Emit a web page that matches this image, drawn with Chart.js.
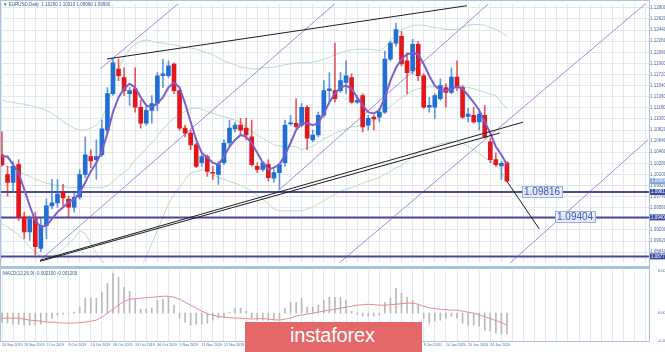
<!DOCTYPE html>
<html>
<head>
<meta charset="utf-8">
<script src="https://cdn.jsdelivr.net/npm/chart.js@4.4.1/dist/chart.umd.min.js"></script>
<style>
  html, body { margin: 0; padding: 0; background: #fff; }
  #wrap { position: relative; width: 665px; height: 352px; overflow: hidden; font-family: 'Liberation Sans Narrow', 'Liberation Sans', sans-serif; }
  canvas { position: absolute; left: 0; }
  #main { top: 0; }
  #sub { top: 267px; }
  .frame { position: absolute; background: #a9c2e1; }
  .cap { position: absolute; font-size: 4.5px; line-height: 5px; color: #3d5a8a; white-space: nowrap; }
  #logo { position: absolute; left: 245px; top: 322px; width: 177px; height: 32px; background: #e46868; }
  #logo span { position: absolute; left: 45px; top: 0px; font: 20px/26px 'Liberation Sans Narrow', 'Liberation Sans', sans-serif; color: #fff; letter-spacing: -0.2px; }
</style>
</head>
<body>
<div id="wrap">
  <canvas id="main" width="665" height="267"></canvas>
  <canvas id="sub" width="665" height="85"></canvas>
  <div class="frame" style="left:0;top:0;width:1px;height:342px"></div>
  <div class="frame" style="left:0;top:0;width:650px;height:1px"></div>
  <div class="frame" style="left:649px;top:0;width:1px;height:342px"></div>
  <div class="frame" style="left:0;top:266px;width:650px;height:3px"></div>
  <div class="frame" style="left:0;top:341px;width:650px;height:1px"></div>
  <div class="cap" style="left:3px;top:2px">&#9660; EURUSD,Daily&nbsp; 1.10290 1.10310 1.09990 1.09990</div>
  <div class="cap" style="left:3px;top:271px">MACD(12,26,9) -0.002100 -0.001200</div>
  <div id="logo"><span>instaforex</span></div>
</div>
<script>
// daily candles, index 0 = 20 Sep 2019
const opens = [1.1042,1.1010,1.0997,1.1026,1.0941,1.0917,1.0938,1.0890,1.0927,1.0959,
  1.0964,1.0981,1.0970,1.0957,1.0973,1.1010,1.1039,1.1034,1.1042,1.1082,
  1.1141,1.1181,1.1167,1.1141,1.1149,1.1119,1.1093,1.1114,1.1125,1.1170,
  1.1170,1.1189,1.1146,1.1085,1.1077,1.1058,1.1029,1.1039,1.1013,1.1010,
  1.1029,1.1061,1.1084,1.1090,1.1085,1.1071,1.1023,1.1018,1.1026,1.1004,
  1.1013,1.1029,1.1092,1.1093,1.1090,1.1119,1.1066,1.1074,1.1106,1.1146,
  1.1146,1.1146,1.1159,1.1167,1.1127,1.1138,1.1090,1.1103,1.1103,1.1111,
  1.1197,1.1223,1.1234,1.1194,1.1178,1.1221,1.1170,1.1119,1.1119,1.1133,
  1.1151,1.1143,1.1168,1.1151,1.1104,1.1106,1.1095,1.1106,1.1063,1.1034,
  1.1024,1.1029];
const highs = [1.1079,1.1023,1.1031,1.1034,1.0949,1.0943,1.0949,1.0938,1.0970,1.1002,
  1.1002,1.0994,1.0975,1.0981,1.1018,1.1071,1.1050,1.1066,1.1098,1.1151,
  1.1197,1.1197,1.1183,1.1151,1.1183,1.1130,1.1122,1.1138,1.1175,1.1197,
  1.1194,1.1191,1.1151,1.1090,1.1082,1.1061,1.1042,1.1042,1.1023,1.1031,
  1.1066,1.1098,1.1095,1.1101,1.1101,1.1098,1.1029,1.1031,1.1034,1.1018,
  1.1029,1.1098,1.1106,1.1133,1.1125,1.1122,1.1082,1.1111,1.1162,1.1175,
  1.1223,1.1175,1.1194,1.1173,1.1138,1.1141,1.1106,1.1106,1.1117,1.1210,
  1.1226,1.1255,1.1242,1.1207,1.1229,1.1226,1.1173,1.1135,1.1141,1.1165,
  1.1157,1.1183,1.1194,1.1154,1.1117,1.1119,1.1114,1.1122,1.1069,1.1045,
  1.1031,1.1031];
const lows = [1.1023,1.0975,1.0981,1.0935,1.0906,1.0903,1.0879,1.0885,1.0906,1.0954,
  1.0957,1.0959,1.0941,1.0949,1.0970,1.1005,1.1021,1.1002,1.1039,1.1077,
  1.1138,1.1162,1.1138,1.1122,1.1111,1.1085,1.1090,1.1093,1.1114,1.1151,
  1.1167,1.1141,1.1082,1.1071,1.1050,1.1021,1.1023,1.1007,1.1002,1.0994,
  1.1026,1.1055,1.1079,1.1074,1.1066,1.1023,1.1013,1.1015,1.0999,1.0997,
  1.0986,1.1023,1.1090,1.1085,1.1087,1.1050,1.1063,1.1071,1.1103,1.1127,
  1.1127,1.1143,1.1141,1.1125,1.1125,1.1079,1.1082,1.1082,1.1095,1.1109,
  1.1194,1.1218,1.1186,1.1141,1.1173,1.1162,1.1117,1.1111,1.1101,1.1130,
  1.1119,1.1141,1.1146,1.1101,1.1095,1.1093,1.1082,1.1069,1.1029,1.1023,
  1.1002,1.0999];
const closes = [1.1026,1.0997,1.1023,1.0941,1.0917,1.0938,1.0893,1.0927,1.0959,1.0964,
  1.0978,1.0972,1.0957,1.0973,1.1010,1.1042,1.1032,1.1039,1.1084,1.1141,
  1.1191,1.1170,1.1146,1.1146,1.1119,1.1093,1.1114,1.1125,1.1170,1.1173,
  1.1186,1.1146,1.1085,1.1077,1.1058,1.1023,1.1039,1.1015,1.1012,1.1026,
  1.1061,1.1085,1.1090,1.1082,1.1074,1.1026,1.1018,1.1029,1.1005,1.1013,
  1.1026,1.1090,1.1093,1.1088,1.1119,1.1069,1.1074,1.1106,1.1146,1.1149,
  1.1133,1.1162,1.1170,1.1127,1.1130,1.1087,1.1101,1.1100,1.1111,1.1197,
  1.1223,1.1245,1.1189,1.1175,1.1221,1.1170,1.1119,1.1122,1.1138,1.1154,
  1.1143,1.1168,1.1151,1.1103,1.1108,1.1095,1.1108,1.1071,1.1034,1.1026,
  1.1028,1.0999];

// moving average (purple)
const maLine = [1.1039,1.1039,1.1026,1.1013,1.0986,1.0959,1.0935,1.0925,1.0927,1.0938,
  1.0949,1.0957,1.0965,1.0970,1.0981,1.0997,1.1015,1.1029,1.1047,1.1077,
  1.1111,1.1135,1.1149,1.1157,1.1151,1.1135,1.1122,1.1119,1.1125,1.1135,
  1.1151,1.1159,1.1151,1.1125,1.1095,1.1066,1.1045,1.1037,1.1029,1.1026,
  1.1039,1.1055,1.1066,1.1074,1.1071,1.1061,1.1045,1.1029,1.1018,1.1021,
  1.1026,1.1042,1.1061,1.1082,1.1093,1.1093,1.1090,1.1093,1.1109,1.1127,
  1.1141,1.1151,1.1154,1.1149,1.1135,1.1122,1.1111,1.1109,1.1114,1.1135,
  1.1162,1.1183,1.1197,1.1205,1.1207,1.1205,1.1189,1.1170,1.1154,1.1146,
  1.1146,1.1149,1.1152,1.1149,1.1138,1.1127,1.1114,1.1095,1.1077,1.1055,
  1.1042,1.1026];

// bollinger bands (light green)
const bbUpper = [1.1130,1.1128,1.1127,1.1125,1.1124,1.1122,1.1120,1.1117,1.1114,1.1109,
  1.1103,1.1096,1.1090,1.1085,1.1082,1.1082,1.1085,1.1090,1.1101,1.1122,
  1.1154,1.1181,1.1200,1.1213,1.1221,1.1226,1.1228,1.1226,1.1224,1.1223,
  1.1221,1.1220,1.1218,1.1216,1.1215,1.1213,1.1210,1.1207,1.1204,1.1199,
  1.1194,1.1191,1.1188,1.1184,1.1183,1.1181,1.1181,1.1183,1.1183,1.1184,
  1.1186,1.1188,1.1189,1.1191,1.1191,1.1191,1.1192,1.1194,1.1197,1.1200,
  1.1204,1.1207,1.1210,1.1212,1.1213,1.1213,1.1213,1.1212,1.1210,1.1216,
  1.1226,1.1237,1.1245,1.1248,1.1252,1.1252,1.1252,1.1250,1.1248,1.1247,
  1.1245,1.1245,1.1245,1.1248,1.1252,1.1253,1.1253,1.1252,1.1248,1.1245,
  1.1240,1.1234];
const bbMid = [1.1026,1.1023,1.1020,1.1015,1.1010,1.1007,1.1002,1.0999,1.0996,1.0994,
  1.0992,1.0991,1.0989,1.0989,1.0989,1.0989,1.0989,1.0989,1.0989,1.0991,
  1.0999,1.1007,1.1013,1.1021,1.1034,1.1042,1.1052,1.1061,1.1072,1.1084,
  1.1093,1.1101,1.1108,1.1112,1.1117,1.1117,1.1116,1.1112,1.1109,1.1106,
  1.1104,1.1101,1.1098,1.1095,1.1087,1.1080,1.1074,1.1069,1.1063,1.1058,
  1.1056,1.1056,1.1056,1.1055,1.1050,1.1053,1.1056,1.1061,1.1068,1.1072,
  1.1077,1.1080,1.1084,1.1087,1.1088,1.1092,1.1095,1.1098,1.1101,1.1114,
  1.1120,1.1128,1.1135,1.1140,1.1146,1.1149,1.1151,1.1152,1.1152,1.1154,
  1.1154,1.1154,1.1154,1.1152,1.1151,1.1149,1.1146,1.1143,1.1140,1.1138,
  1.1127,1.1116];
const bbLower = [1.0930,1.0925,1.0919,1.0912,1.0903,1.0893,1.0884,1.0877,1.0876,1.0877,
  1.0882,1.0890,1.0898,1.0906,1.0919,1.0914,1.0898,1.0882,1.0871,1.0858,
  1.0845,1.0836,1.0831,1.0831,1.0842,1.0858,1.0877,1.0898,1.0919,1.0941,
  1.0962,1.0978,1.0989,1.1002,1.1012,1.1015,1.1018,1.1015,1.1010,1.1005,
  1.1002,1.0999,1.0996,1.0992,1.0989,1.0983,1.0976,1.0970,1.0962,1.0954,
  1.0951,1.0951,1.0951,1.0951,1.0951,1.0954,1.0957,1.0962,1.0967,1.0973,
  1.0978,1.0983,1.0986,1.0989,1.0992,1.0996,1.0999,1.1002,1.1005,1.1010,
  1.1015,1.1021,1.1024,1.1031,1.1039,1.1047,1.1050,1.1053,1.1056,1.1060,
  1.1061,1.1063,1.1063,1.1060,1.1056,1.1050,1.1044,1.1037,1.1031,1.1026,
  1.1015,1.0997];

// oscillator window
const macdHist = [-0.0009,-0.0010,-0.0011,-0.0011,-0.0012,-0.0012,-0.0012,-0.0011,-0.0008,-0.0005,
  -0.0002,-0.0001,0.0000,0.0001,0.0006,0.0015,0.0015,0.0015,0.0021,0.0030,
  0.0040,0.0036,0.0026,0.0022,0.0015,0.0004,0.0004,0.0005,0.0013,0.0014,
  0.0016,0.0008,-0.0005,-0.0009,-0.0012,-0.0011,-0.0011,-0.0010,-0.0007,-0.0005,
  -0.0004,0.0001,0.0005,0.0005,0.0002,-0.0005,-0.0007,-0.0007,-0.0007,-0.0007,
  -0.0006,0.0005,0.0011,0.0011,0.0015,0.0006,0.0006,0.0008,0.0013,0.0016,
  0.0016,0.0016,0.0013,0.0002,-0.0001,-0.0003,-0.0003,-0.0003,-0.0002,0.0011,
  0.0015,0.0025,0.0020,0.0016,0.0013,0.0008,-0.0005,-0.0010,-0.0008,-0.0007,
  -0.0005,-0.0003,-0.0005,-0.0010,-0.0012,-0.0012,-0.0013,-0.0017,-0.0018,-0.0020,
  -0.0021,-0.0021];
const macdSignal = [-0.0005,-0.0005,-0.0005,-0.0005,-0.0006,-0.0007,-0.00075,-0.0008,-0.0009,-0.0009,
  -0.00095,-0.0010,-0.0010,-0.0010,-0.00095,-0.0009,-0.0008,-0.0007,-0.0004,0.0000,
  0.0004,0.0008,0.0012,0.0014,0.00145,0.0015,0.00155,0.0016,0.00165,0.0017,
  0.0017,0.0016,0.0014,0.0011,0.0008,0.0005,0.0002,-0.00005,-0.0002,-0.00035,
  -0.0004,-0.00045,-0.0005,-0.0005,-0.00055,-0.0006,-0.00055,-0.00055,-0.0006,-0.00065,
  -0.0007,-0.0006,-0.0005,-0.0003,-0.0002,-0.0001,0.0000,0.0001,0.0002,0.0003,
  0.0004,0.0005,0.0006,0.0007,0.0008,0.00085,0.0009,0.00085,0.0008,0.0008,
  0.00085,0.0009,0.00095,0.0010,0.0010,0.0009,0.0007,0.00055,0.00045,0.0004,
  0.00035,0.0003,0.0003,0.0002,0.0001,0.0000,-0.00015,-0.00035,-0.00055,-0.00075,
  -0.00095,-0.0012];

// date labels every 4 bars
const dateLabels = ['20 Sep 2019','26 Sep 2019','2 Oct 2019','8 Oct 2019','14 Oct 2019','18 Oct 2019',
  '24 Oct 2019','30 Oct 2019','5 Nov 2019','11 Nov 2019','15 Nov 2019','21 Nov 2019','27 Nov 2019',
  '3 Dec 2019','9 Dec 2019','13 Dec 2019','19 Dec 2019','26 Dec 2019','2 Jan 2020','8 Jan 2020',
  '14 Jan 2020','20 Jan 2020','24 Jan 2020'];
const priceTicks = [1.1280,1.1262,1.1244,1.1226,1.1208,1.1190,1.1172,1.1154,1.1136,1.1118,1.1100,
  1.1082,1.1064,1.1046,1.1028,1.1010,1.0992,1.0974,1.0956,1.0938,1.0920,1.0902,1.0884];
const macdTicks = [0.0043, 0, -0.0028];

// horizontal levels and drawn lines: [bar index, price, bar index, price]
const levels = [1.09816, 1.09404, 1.08772];
const levelTags = ['1.09816', '1.09404'];
const blackLines = [
  [18.9, 1.11972, 83.8, 1.12836],
  [6.85, 1.08708, 93.9, 1.10948],
  [6.85, 1.08692, 89.7, 1.10772],
  [91.0, 1.09988, 96.8, 1.09220]
];
const channelLines = [
  [17.7, 1.11812, 32.4, 1.12916],
  [6.85, 1.08708, 60.0, 1.12868],
  [49.7, 1.09828, 87.7, 1.12868],
  [60.7, 1.08660, 116.4, 1.12900],
  [91.5, 1.08660, 116.4, 1.10660]
];

const X_MIN = -0.18, X_MAX = 116.6;
const idx = opens.map((o, i) => i);
const up = opens.map((o, i) => closes[i] >= o);
const bodyColors = up.map(u => u ? '#1f6fd6' : '#e2161b');
const wickColors = up.map(u => u ? 'rgba(31,111,214,0.7)' : 'rgba(226,22,27,0.7)');
const seg = a => [{ x: a[0], y: a[1] }, { x: a[2], y: a[3] }];
const lineSet = (data, color, width, order) => ({
  type: 'line', data: data, borderColor: color, borderWidth: width,
  pointRadius: 0, fill: false, order: order
});
const smallFont = { size: 4.5, family: "'Liberation Sans Narrow', 'Liberation Sans', sans-serif" };
const gridColor = '#e3e7ee';

const tagPlugin = {
  id: 'tags',
  afterDraw(chart, args, opts) {
    const { ctx, chartArea, scales } = chart;
    const x = scales.x, y = scales.y;
    ctx.save();
    ctx.textBaseline = 'middle';
    ctx.font = "10px 'Liberation Sans', sans-serif";
    levelTags.forEach((t, k) => {
      const py = Math.round(y.getPixelForValue(levels[k]));
      const px = Math.round(x.getPixelForValue(opts.at[k]));
      const w = Math.ceil(ctx.measureText(t).width) + 4;
      ctx.fillStyle = 'rgba(230,235,252,0.95)';
      ctx.fillRect(px, py - 6, w, 12);
      ctx.strokeStyle = '#9eaee2';
      ctx.lineWidth = 1;
      ctx.strokeRect(px + 0.5, py - 5.5, w - 1, 11);
      ctx.fillStyle = '#4058b0';
      ctx.fillText(t, px + 2, py + 0.5);
    });
    ctx.font = "4.5px 'Liberation Sans Narrow', sans-serif";
    const tag = (v, bg) => {
      const py = y.getPixelForValue(v);
      ctx.fillStyle = bg;
      ctx.fillRect(chartArea.right + 1, py - 3, 15, 6);
      ctx.fillStyle = '#fff';
      ctx.fillText(v.toFixed(5), chartArea.right + 2, py);
    };
    tag(closes[closes.length - 1], '#7ea9de');
    levels.forEach(v => tag(v, '#3b4a9c'));
    ctx.restore();
  }
};

new Chart(document.getElementById('main'), {
  type: 'bar',
  data: {
    datasets: [
      lineSet(idx.map(i => ({ x: i, y: bbUpper[i] })), '#b9dcc4', 1, 20),
      lineSet(idx.map(i => ({ x: i, y: bbMid[i] })), '#b9dcc4', 1, 20),
      lineSet(idx.map(i => ({ x: i, y: bbLower[i] })), '#b9dcc4', 1, 20),
      ...channelLines.map(l => lineSet(seg(l), '#9a8ee0', 1, 15)),
      ...levels.map(v => lineSet([{ x: -1, y: v }, { x: 120, y: v }], '#4b4b9e', 2, 12)),
      {
        data: idx.map(i => ({ x: i, y: [lows[i], highs[i]] })),
        backgroundColor: wickColors, barThickness: 1, grouped: false, order: 6
      },
      {
        data: idx.map(i => ({ x: i, y: [opens[i], closes[i]] })),
        backgroundColor: bodyColors, barThickness: 4, minBarLength: 1, grouped: false, order: 5
      },
      lineSet(idx.map(i => ({ x: i, y: maLine[i] })), '#7c5fcc', 2, 3),
      ...blackLines.map(l => lineSet(seg(l), '#1e1e1e', 1, 2))
    ]
  },
  options: {
    responsive: false,
    animation: false,
    events: [],
    layout: { padding: { left: 1, top: 2, right: 0, bottom: 2 }, autoPadding: false },
    plugins: { legend: { display: false }, tooltip: { enabled: false }, tags: { at: [93.7, 99.6] } },
    scales: {
      x: {
        type: 'linear', min: X_MIN, max: X_MAX, offset: false,
        grid: { offset: false, color: gridColor, drawTicks: false },
        border: { display: false },
        ticks: { display: false },
        afterBuildTicks: s => { const t = []; for (let v = 0; v <= 116; v += 2) t.push({ value: v }); s.ticks = t; },
        afterFit: s => { s.height = 0; }
      },
      y: {
        position: 'right', min: 1.0866, max: 1.12868,
        grid: { color: gridColor, drawTicks: false },
        border: { display: false },
        ticks: { font: smallFont, color: '#4a6a9a', padding: 1, callback: v => v.toFixed(5) },
        afterBuildTicks: s => { s.ticks = priceTicks.map(v => ({ value: v })); },
        afterFit: s => { s.width = 16; }
      }
    }
  },
  plugins: [tagPlugin]
});

new Chart(document.getElementById('sub'), {
  type: 'bar',
  data: {
    datasets: [
      {
        data: idx.map(i => ({ x: i, y: macdHist[i] })),
        backgroundColor: '#b9b9b9', barThickness: 1, grouped: false, order: 2
      },
      lineSet(idx.map(i => ({ x: i, y: macdSignal[i] })), '#e88a8a', 1, 1)
    ]
  },
  options: {
    responsive: false,
    animation: false,
    events: [],
    layout: { padding: { left: 1, top: 3, right: 0, bottom: 0 }, autoPadding: false },
    plugins: { legend: { display: false }, tooltip: { enabled: false } },
    scales: {
      x: {
        type: 'linear', min: X_MIN, max: X_MAX, offset: false,
        grid: { offset: false, color: gridColor, drawTicks: false },
        border: { display: false },
        ticks: {
          font: { size: 3.6, family: smallFont.family }, color: '#4a6a9a', padding: 2,
          align: 'start', autoSkip: false, maxRotation: 0, minRotation: 0,
          callback: v => (v % 4 === 0 && dateLabels[v / 4]) ? dateLabels[v / 4] : ''
        },
        afterBuildTicks: s => { const t = []; for (let v = 0; v <= 116; v += 2) t.push({ value: v }); s.ticks = t; },
        afterFit: s => { s.height = 11; }
      },
      y: {
        position: 'right', min: -0.0028, max: 0.0043,
        grid: { display: false },
        border: { display: false },
        ticks: { font: { size: 4, family: smallFont.family }, color: '#4a6a9a', padding: 1, callback: v => v === 0 ? '0.00' : v.toFixed(6) },
        afterBuildTicks: s => { s.ticks = macdTicks.map(v => ({ value: v })); },
        afterFit: s => { s.width = 16; }
      }
    }
  }
});
</script>
</body>
</html>
